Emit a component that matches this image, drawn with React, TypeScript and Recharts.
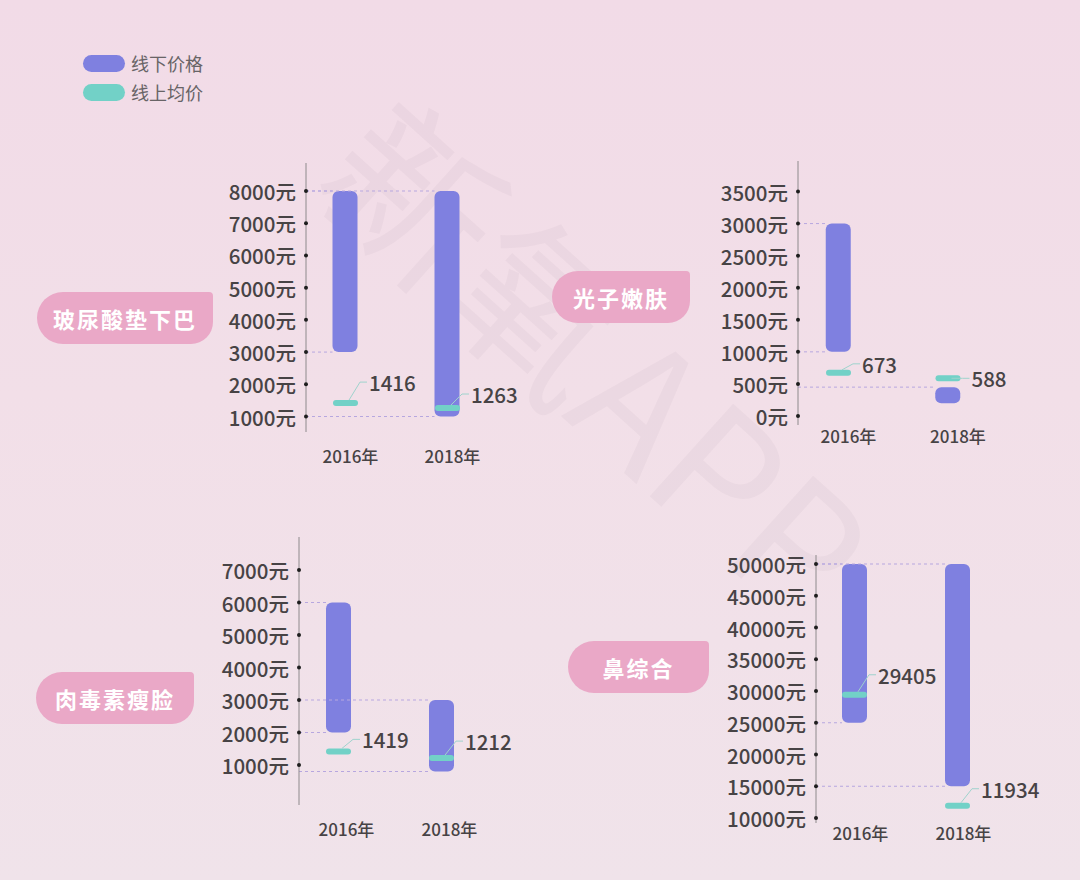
import React from 'react';
import { ComposedChart, Bar, Scatter, XAxis, YAxis } from 'recharts';

// ---------- data ----------
const years = [2016, 2018];
const yearLabels = ['2016年', '2018年'];
const legendNames = ['线下价格', '线上均价'];
const titles = ['玻尿酸垫下巴', '光子嫩肤', '肉毒素瘦脸', '鼻综合'];

// 玻尿酸垫下巴
const fillerOfflineLow = [3000, 1000];
const fillerOfflineHigh = [8000, 8000];
const fillerOnline = [1416, 1263];
const fillerTicks = [1000, 2000, 3000, 4000, 5000, 6000, 7000, 8000];

// 光子嫩肤
const photoOfflineLow = [1000, 200];
const photoOfflineHigh = [3000, 450];
const photoOnline = [673, 588];
const photoTicks = [0, 500, 1000, 1500, 2000, 2500, 3000, 3500];

// 肉毒素瘦脸
const botoxOfflineLow = [2000, 800];
const botoxOfflineHigh = [6000, 3000];
const botoxOnline = [1419, 1212];
const botoxTicks = [1000, 2000, 3000, 4000, 5000, 6000, 7000];

// 鼻综合
const noseOfflineLow = [25000, 15000];
const noseOfflineHigh = [50000, 50000];
const noseOnline = [29405, 11934];
const noseTicks = [10000, 15000, 20000, 25000, 30000, 35000, 40000, 45000, 50000];

// ---------- style ----------
const FONT = '"Noto Sans CJK SC", "Noto Sans", sans-serif';
const OFFLINE = '#7f80e0';
const ONLINE = '#72d1c7';
const PILL = '#eaa8c7';
const DASH = '#b7a7df';
const TEXT = '#474345';
const BAR = 25;

type Cfg = {
  left: number; top: number; width: number; height: number;
  axisX: number; plotTop: number; plotBottom: number; plotRight: number;
  c0: number; c1: number;
  tickA: [number, number]; tickB: [number, number];
  labelY: number; labelDx: number; labelLift: number[]; bottomDash: boolean[];
};

const cfgFiller: Cfg = {
  left: 200, top: 150, width: 340, height: 330,
  axisX: 306, plotTop: 163, plotBottom: 432, plotRight: 520,
  c0: 345.5, c1: 447.5, tickA: [8000, 191], tickB: [1000, 416.5],
  labelY: 455, labelDx: 5, labelLift: [-21, -14], bottomDash: [true, true],
};
const cfgPhoto: Cfg = {
  left: 690, top: 148, width: 390, height: 310,
  axisX: 798, plotTop: 161, plotBottom: 425, plotRight: 1040,
  c0: 838.5, c1: 948, tickA: [3500, 191.5], tickB: [0, 416],
  labelY: 435, labelDx: 10, labelLift: [-9, 0], bottomDash: [true, false],
};
const cfgBotox: Cfg = {
  left: 190, top: 525, width: 340, height: 320,
  axisX: 299, plotTop: 537, plotBottom: 805, plotRight: 520,
  c0: 338.5, c1: 441.5, tickA: [7000, 570], tickB: [1000, 765],
  labelY: 828, labelDx: 8, labelLift: [-12, -17], bottomDash: [true, true],
};
const cfgNose: Cfg = {
  left: 700, top: 545, width: 380, height: 320,
  axisX: 816, plotTop: 555, plotBottom: 823, plotRight: 1060,
  c0: 854.5, c1: 957.5, tickA: [50000, 564], tickB: [10000, 818],
  labelY: 832, labelDx: 6, labelLift: [-20, -17], bottomDash: [true, true],
};

const RangeBar = (props: any) => {
  const { x, y, width, height, axisX, payload, bottomDash } = props;
  const top = Math.min(y, y + height);
  const h = Math.abs(height);
  const i = years.indexOf(payload?.year);
  const showBottom = bottomDash ? bottomDash[i] !== false : true;
  return (
    <g>
      <line x1={axisX} y1={top} x2={x} y2={top} stroke={DASH} strokeWidth={1} strokeDasharray="3 3" />
      {showBottom && (
        <line x1={axisX} y1={top + h} x2={x} y2={top + h} stroke={DASH} strokeWidth={1} strokeDasharray="3 3" />
      )}
      <rect x={x} y={top} width={width} height={h} rx={6} ry={6} fill={OFFLINE} />
    </g>
  );
};

const OnlineMark = (props: any) => {
  const { cx, cy, payload, lifts } = props;
  const i = years.indexOf(payload.year);
  const lift = lifts[i] ?? -16;
  const right = cx + BAR / 2;
  const startY = lift < 0 ? cy - 3 : cy;
  return (
    <g>
      <rect x={cx - BAR / 2} y={cy - 3} width={BAR} height={6} rx={3} ry={3} fill={ONLINE} />
      <polyline
        points={`${right - 9},${startY} ${right + 2},${cy + lift} ${right + 9},${cy + lift}`}
        fill="none" stroke="#9fd3cd" strokeWidth={1}
      />
      <text x={right + 11} y={cy + lift} dominantBaseline="central" fontSize={20.5} fontWeight={500}
        fill={TEXT} fontFamily={FONT}>
        {payload.online}
      </text>
    </g>
  );
};

function PriceChart({ cfg, low, high, online, ticks }: { cfg: Cfg; low: number[]; high: number[]; online: number[]; ticks: number[] }) {
  const data = years.map((year, i) => ({ year, range: [low[i], high[i]], online: online[i] }));
  const yAxisWidth = cfg.axisX - cfg.left;
  const marginTop = cfg.plotTop - cfg.top;
  const marginRight = cfg.left + cfg.width - cfg.plotRight;
  const xAxisHeight = cfg.top + cfg.height - cfg.plotBottom;

  const [vA, pA] = cfg.tickA;
  const [vB, pB] = cfg.tickB;
  const pxPerY = (pB - pA) / (vA - vB);
  const yMax = vA + (pA - cfg.plotTop) / pxPerY;
  const yMin = vB - (cfg.plotBottom - pB) / pxPerY;

  const pxPerX = (cfg.c1 - cfg.c0) / (years[1] - years[0]);
  const xMin = years[0] - (cfg.c0 - cfg.axisX) / pxPerX;
  const xMax = years[1] + (cfg.plotRight - cfg.c1) / pxPerX;
  const labelDy = cfg.labelY - cfg.plotBottom;

  return (
    <div style={{ position: 'absolute', left: cfg.left, top: cfg.top, width: cfg.width, height: cfg.height }}>
      <ComposedChart
        width={cfg.width}
        height={cfg.height}
        data={data}
        margin={{ top: marginTop, right: marginRight, bottom: 0, left: 0 }}
      >
        <XAxis
          type="number"
          dataKey="year"
          domain={[xMin, xMax]}
          ticks={years}
          interval={0}
          axisLine={false}
          tickLine={false}
          tickSize={0}
          tickMargin={0}
          height={xAxisHeight}
          tick={(p: any) => {
            const idx = years.indexOf(p.payload.value);
            return (
              <text x={p.x + cfg.labelDx} y={p.y + labelDy} textAnchor="middle" dominantBaseline="central"
                fontSize={17} fontWeight={500} fill={TEXT} fontFamily={FONT}>
                {yearLabels[idx]}
              </text>
            );
          }}
        />
        <YAxis
          type="number"
          domain={[yMin, yMax]}
          ticks={ticks}
          interval={0}
          width={yAxisWidth}
          axisLine={{ stroke: '#8e8a8c', strokeWidth: 1 }}
          tickLine={false}
          tickSize={0}
          tickMargin={0}
          tick={(p: any) => (
            <g>
              <circle cx={p.x} cy={p.y} r={2} fill="#1e1e1e" />
              <text x={p.x - 10} y={p.y} textAnchor="end" dominantBaseline="central" fontSize={20.5}
                fontWeight={500} fill={TEXT} fontFamily={FONT}>
                {`${p.payload.value}元`}
              </text>
            </g>
          )}
        />
        <Bar
          dataKey="range"
          barSize={BAR}
          isAnimationActive={false}
          shape={(p: any) => <RangeBar {...p} axisX={yAxisWidth} bottomDash={cfg.bottomDash} />}
        />
        <Scatter
          dataKey="online"
          isAnimationActive={false}
          shape={(p: any) => <OnlineMark {...p} lifts={cfg.labelLift} />}
        />
      </ComposedChart>
    </div>
  );
}

const pillStyle = (left: number, top: number, width: number): React.CSSProperties => ({
  position: 'absolute', left, top, width, height: 52,
  background: PILL, borderRadius: '26px 4px 22px 26px',
  color: '#ffffff', fontSize: 22, fontWeight: 700, letterSpacing: 2,
  display: 'flex', alignItems: 'center', justifyContent: 'center',
  fontFamily: FONT,
});

export default function App() {
  return (
    <div
      style={{
        position: 'absolute', left: 0, top: 0, width: 1080, height: 880, overflow: 'hidden',
        background: 'linear-gradient(180deg, #f2dbe7 0%, #f2dfe8 45%, #f0e3ea 100%)',
        fontFamily: FONT,
      }}
    >
      <svg width={1080} height={880} style={{ position: 'absolute', left: 0, top: 0, pointerEvents: 'none' }}>
        <text x={357} y={133} transform="rotate(42 357 133)" dominantBaseline="central" fontSize={170}
          fill="rgba(120,95,110,0.05)" fontFamily={FONT} fontWeight={400}>新氧APP</text>
      </svg>

      {/* legend */}
      <div style={{ position: 'absolute', left: 83, top: 55, width: 42, height: 17, borderRadius: 9, background: OFFLINE }} />
      <div style={{ position: 'absolute', left: 131, top: 51, fontSize: 18, lineHeight: '25px', color: '#686466' }}>{legendNames[0]}</div>
      <div style={{ position: 'absolute', left: 83, top: 84, width: 42, height: 17, borderRadius: 9, background: ONLINE }} />
      <div style={{ position: 'absolute', left: 131, top: 80, fontSize: 18, lineHeight: '25px', color: '#686466' }}>{legendNames[1]}</div>

      {/* category pills */}
      <div style={pillStyle(37, 292, 176)}>{titles[0]}</div>
      <div style={pillStyle(552, 271, 138)}>{titles[1]}</div>
      <div style={pillStyle(36, 672, 158)}>{titles[2]}</div>
      <div style={pillStyle(568, 641, 141)}>{titles[3]}</div>

      <PriceChart cfg={cfgFiller} low={fillerOfflineLow} high={fillerOfflineHigh} online={fillerOnline} ticks={fillerTicks} />
      <PriceChart cfg={cfgPhoto} low={photoOfflineLow} high={photoOfflineHigh} online={photoOnline} ticks={photoTicks} />
      <PriceChart cfg={cfgBotox} low={botoxOfflineLow} high={botoxOfflineHigh} online={botoxOnline} ticks={botoxTicks} />
      <PriceChart cfg={cfgNose} low={noseOfflineLow} high={noseOfflineHigh} online={noseOnline} ticks={noseTicks} />
    </div>
  );
}
